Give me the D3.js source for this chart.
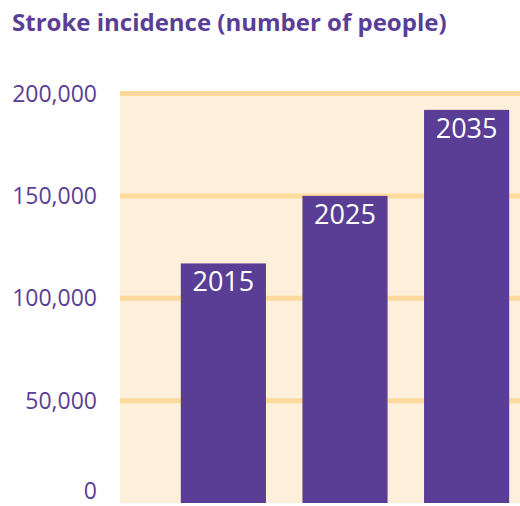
<!DOCTYPE html>
<meta charset="utf-8">
<script src="https://d3js.org/d3.v7.min.js"></script>
<style>
  body { margin: 0; background: #fff; }
  text { font-family: "Open Sans", sans-serif; }
</style>
<div id="chart"></div>
<script>

    // data
    var years = ["2015", "2025", "2035"];
    var strokes = [117000, 150000, 192000];
    var yTicks = [0, 50000, 100000, 150000, 200000];

    var width = 520, height = 506;
    var purple = "#5a3e96";

    var svg = d3.select("#chart")
      .append("svg")
        .attr("width", width)
        .attr("height", height);

    // title
    svg.append("text")
        .attr("x", 12)
        .attr("y", 31)
        .attr("fill", purple)
        .style("font-weight", 700)
        .style("font-size", "24px")
        .text("Stroke incidence (number of people)");

    // scales
    var y = d3.scaleLinear()
        .domain([0, 200000])
        .range([503, 93.5]);

    var x = d3.scaleBand()
        .domain(years)
        .range([120, 570])
        .paddingInner(0.3)
        .paddingOuter(0.5);

    // plot background
    svg.append("rect")
        .attr("x", 120)
        .attr("y", y(200000) - 2.5)
        .attr("width", width - 120)
        .attr("height", y(0) - y(200000) + 2.5)
        .attr("fill", "#fdf0da");

    // gridlines
    svg.selectAll(".grid")
      .data(yTicks.filter(function(d) { return d > 0; }))
      .enter()
      .append("line")
        .attr("x1", 120)
        .attr("x2", width)
        .attr("y1", function(d) { return y(d); })
        .attr("y2", function(d) { return y(d); })
        .attr("stroke", "#fdd99b")
        .attr("stroke-width", 5);

    // y labels (the 0 label sits a bit higher so it isn't cut by the edge)
    svg.selectAll(".ylab")
      .data(yTicks)
      .enter()
      .append("text")
        .attr("x", 97)
        .attr("y", function(d) { return Math.min(y(d), 491); })
        .attr("dy", "0.35em")
        .attr("text-anchor", "end")
        .attr("fill", purple)
        .style("font-size", "23px")
        .text(function(d) { return d3.format(",")(d); });

    // bars
    svg.selectAll(".bar")
      .data(strokes)
      .enter()
      .append("rect")
        .attr("x", function(d, i) { return x(years[i]); })
        .attr("y", function(d) { return y(d); })
        .attr("width", x.bandwidth())
        .attr("height", function(d) { return y(0) - y(d); })
        .attr("fill", purple);

    // bar labels
    svg.selectAll(".blab")
      .data(strokes)
      .enter()
      .append("text")
        .attr("x", function(d, i) { return x(years[i]) + x.bandwidth() / 2; })
        .attr("y", function(d) { return y(d) + 28; })
        .attr("text-anchor", "middle")
        .attr("fill", "#fff")
        .style("font-size", "27px")
        .text(function(d, i) { return years[i]; });

</script>
